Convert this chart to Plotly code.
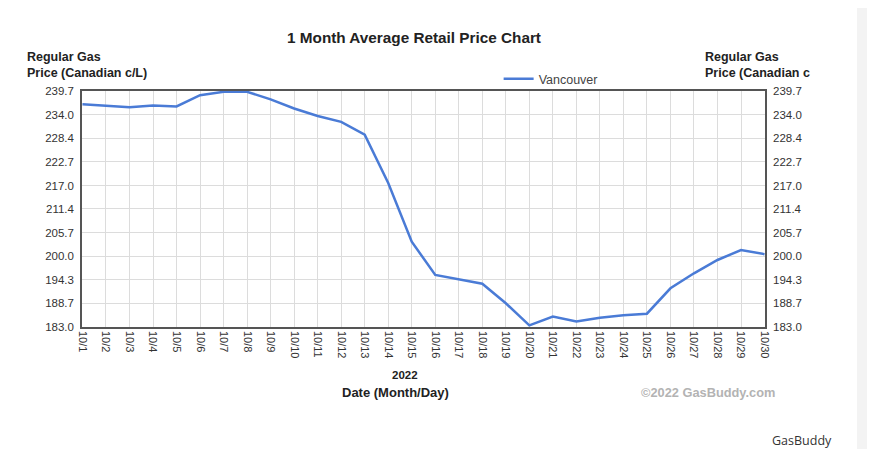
import plotly.graph_objects as go

days = ["10/%d" % d for d in range(1, 31)]
vancouver = [236.5, 236.1, 235.8, 236.2, 236.0, 238.7, 239.5, 239.5, 237.7, 235.5,
             233.7, 232.3, 229.2, 217.6, 203.5, 195.5, 194.5, 193.4, 188.7, 183.4,
             185.5, 184.3, 185.2, 185.8, 186.2, 192.3, 195.9, 199.1, 201.5, 200.5]
y_ticks = [183.0, 188.7, 194.3, 200.0, 205.7, 211.4, 217.0, 222.7, 228.4, 234.0, 239.7]
y_labels = ["%.1f" % v for v in y_ticks]

FONT = "Liberation Sans, Arial, sans-serif"

fig = go.Figure()
fig.add_trace(go.Scatter(x=days, y=vancouver, mode="lines", name="Vancouver",
                         line=dict(color="#4a7bd6", width=2.5)))
# invisible copy so the right axis gets drawn
fig.add_trace(go.Scatter(x=days, y=vancouver, mode="lines", yaxis="y2",
                         line=dict(width=0), showlegend=False, hoverinfo="skip"))

axis_y = dict(range=[183.0, 239.7], tickvals=y_ticks, ticktext=y_labels,
              showgrid=True, gridcolor="#dcdcdc", gridwidth=1,
              showline=True, linecolor="#555", linewidth=1.5,
              ticks="", ticklabelstandoff=4,
              tickfont=dict(size=11.5, color="#333", family=FONT),
              zeroline=False, fixedrange=True)

# the page adds an 8px body margin, so everything is placed 8px up/left
fig.update_layout(
    width=867, height=441,
    margin=dict(l=74, r=110, t=83, b=122),
    paper_bgcolor="white", plot_bgcolor="white",
    font=dict(family=FONT, color="#333"),
    title=dict(text="<b>1 Month Average Retail Price Chart</b>", x=(406 - 74) / 683, xref="paper",
               xanchor="center", y=1 - 30 / 441, yref="container", yanchor="middle",
               font=dict(size=15.3, color="#222", family=FONT)),
    xaxis=dict(type="category", tickangle=90, showgrid=True, gridcolor="#dcdcdc",
               showline=True, linecolor="#555", linewidth=1.5, mirror=True,
               ticks="", range=[-0.02, 29.02],
               tickfont=dict(size=11, color="#333", family=FONT)),
    yaxis=dict(side="left", mirror=True, **axis_y),
    yaxis2=dict(side="right", overlaying="y", **axis_y),
    showlegend=True,
    legend=dict(orientation="h", x=0.61, xanchor="left", y=0.987, yanchor="bottom",
                font=dict(size=12.5, color="#444", family=FONT),
                bgcolor="rgba(0,0,0,0)"),
)

fig.update_layout(annotations=[
    dict(text="<b>Regular Gas</b><br><b>Price (Canadian c/L)</b>", xref="paper", yref="paper",
         x=(17 - 74) / 683, y=1.0, xanchor="left", yanchor="bottom", showarrow=False, yshift=9,
         font=dict(size=12.5, color="#222", family=FONT), align="left"),
    dict(text="<b>Regular Gas</b><br><b>Price (Canadian c</b>", xref="paper", yref="paper",
         x=(695 - 74) / 683, y=1.0, xanchor="left", yanchor="bottom", showarrow=False, yshift=9,
         font=dict(size=12.5, color="#222", family=FONT), align="left"),
    dict(text="<b>2022</b>", xref="paper", yref="paper", x=(397 - 74) / 683, y=0,
         xanchor="center", yanchor="middle",
         showarrow=False, yshift=-48, font=dict(size=11.5, color="#222", family=FONT)),
    dict(text="<b>Date (Month/Day)</b>", xref="paper", yref="paper", x=(387 - 74) / 683, y=0,
         xanchor="center", yanchor="middle", showarrow=False, yshift=-65,
         font=dict(size=13, color="#222", family=FONT)),
    dict(text="<b>©2022 GasBuddy.com</b>", xref="paper", yref="paper", x=(700 - 74) / 683, y=0,
         xanchor="center", yanchor="middle", showarrow=False, yshift=-65,
         font=dict(size=12.8, color="#b3b3b3", family=FONT)),
    dict(text="GasBuddy", xref="paper", yref="paper", x=(762 - 74) / 683, y=0, xanchor="left",
         yanchor="middle", showarrow=False, yshift=-113,
         font=dict(size=12.5, color="#333", family="Open Sans, sans-serif")),
])

# grey page edge at the far right
fig.add_shape(type="rect", xref="paper", yref="paper", x0=(849 - 74) / 683, x1=1.3, y0=-0.7, y1=1.5,
              fillcolor="#f3f3f3", line=dict(width=0), layer="below")

fig.write_html("out.html")
